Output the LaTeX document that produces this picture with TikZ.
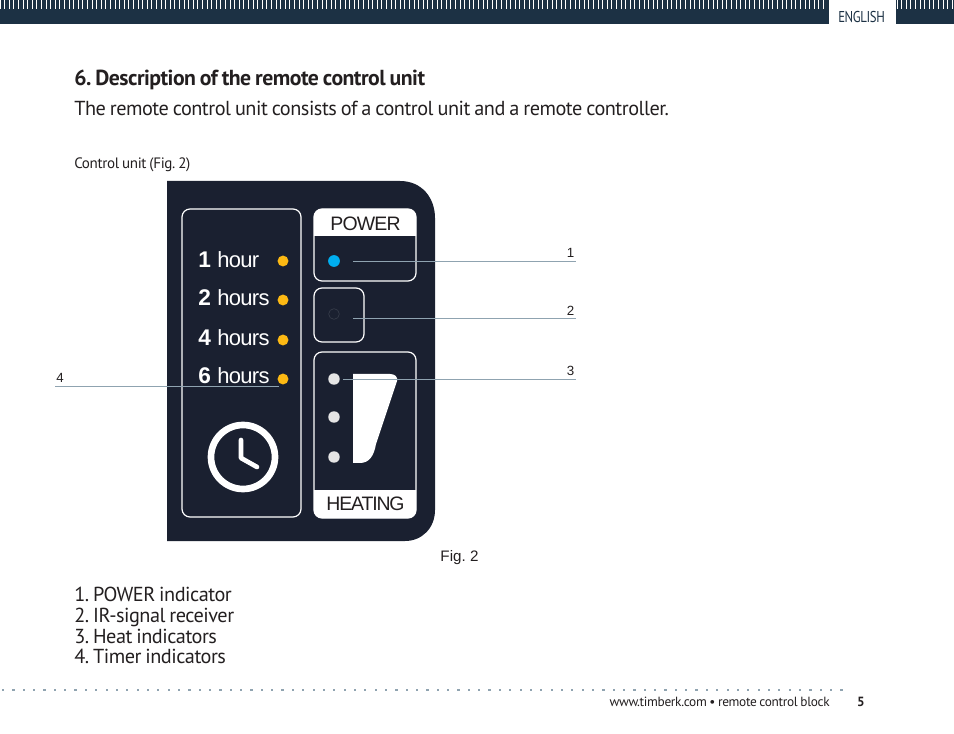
\documentclass[tikz,border=0pt]{standalone}
\usepackage{fontspec}
\setmainfont{PT Sans}[LetterSpace=-2.4,WordSpace=0.8]
\newfontfamily\panelfont{Liberation Sans}[LetterSpace=-3]
\newfontfamily\capfont{Liberation Sans}
\usepackage{tikz}
\usetikzlibrary{calc, positioning}
\definecolor{barblue}{HTML}{1C3144}
\definecolor{panelblue}{HTML}{1A2030}
\definecolor{leadgray}{HTML}{8FA3B0}
\definecolor{inktext}{HTML}{231F20}
\definecolor{amberled}{HTML}{FDB913}
\definecolor{blueled}{HTML}{00AEEF}
\tikzset{
  pagetext/.style={anchor=base west, inner sep=0, text=inktext},
  listtext/.style={pagetext, font=\fontsize{15.2}{15.2}\selectfont},
  hourtext/.style={anchor=base west, inner sep=0, text=white, font=\panelfont\fontsize{16.5}{16.5}\selectfont},
  panelbox/.style={draw=white, line width=0.9pt, rounded corners=6pt},
  leadline/.style={draw=leadgray, line width=0.6pt},
  numtext/.style={inner sep=0, text=inktext, font=\capfont\fontsize{10}{10}\selectfont},
  ledamber/.style={circle, fill=amberled, inner sep=0, minimum size=8.2pt},
  ledwhite/.style={circle, fill=white!90!black, inner sep=0, minimum size=8.6pt},
}
\begin{document}
\frenchspacing
\begin{tikzpicture}[x=0.75pt, y=-0.75pt]
  \useasboundingbox (0,0) rectangle (954,734);
  % top bar
  \fill [barblue] (0,0) rectangle (829,24);
  \fill [barblue] (896,0) rectangle (954,24);
  \foreach \x in {0,4.6,...,954} {
    \ifdim \x pt<827pt \draw [white, line width=0.75pt] (\x,0) -- (\x,9.5); \fi
    \ifdim \x pt>897pt \draw [white, line width=0.75pt] (\x,0) -- (\x,9.5); \fi
  }
  \node (lang) at (838,22.5) [pagetext, text=barblue, font=\fontsize{11.8}{11.8}\selectfont\addfontfeature{FakeStretch=0.81}] {ENGLISH};
  % headings
  \node (title) at (74,85.5) [pagetext, font=\fontsize{16.3}{16.3}\selectfont\bfseries] {6. Description of the remote control unit};
  \node (intro) at (74,115.5) [pagetext, font=\fontsize{15.2}{15.2}\selectfont] {The remote control unit consists of a control unit and a remote controller.};
  \node (caption) at (74,169) [pagetext, font=\fontsize{11.3}{11.3}\selectfont] {Control unit (Fig. 2)};
  % panel
  \fill [panelblue] (167,181) -- (400,181)
    .. controls (422,181) and (435,198) .. (435,218) -- (435,510)
    .. controls (435,528) and (422,541) .. (405,541) -- (167,541) -- cycle;
  \draw [panelbox] (182,209) rectangle (301,517);
  % power box
  \fill [white] (314,236) [rounded corners=6pt] -- (314,209) -- (416,209) -- (416,225) [sharp corners] -- (416,236) -- cycle;
  \draw [panelbox] (314,209) rectangle (416,281);
  \node (power) at (365.5,224) [inner sep=0, text=inktext, font=\panelfont\fontsize{14.6}{14.6}\selectfont\addfontfeature{LetterSpace=-4}] {POWER};
  \node (ledpower) at (334,261) [circle, fill=blueled, inner sep=0, minimum size=8.8pt] {};
  % receiver box
  \draw [panelbox] (314,288) rectangle (364,342);
  \node (ledir) at (334,314) [circle, draw=white!12!panelblue, line width=0.5pt, inner sep=0, minimum size=8pt] {};
  % heating box
  \fill [white] (314,490) [rounded corners=6pt] -- (314,518) -- (416,518) -- (416,500) [sharp corners] -- (416,490) -- cycle;
  \draw [panelbox] (314,352) rectangle (416,518);
  \node (heating) at (365.5,503.5) [inner sep=0, text=inktext, font=\panelfont\fontsize{14.6}{14.6}\selectfont\addfontfeature{LetterSpace=-6}] {HEATING};
  \node (heatone) at (334,379) [ledwhite] {};
  \node (heattwo) at (334,417) [ledwhite] {};
  \node (heatthree) at (334,457) [ledwhite] {};
  \fill [white] (353,374) -- (390,374)
    .. controls (395,374) and (398,377) .. (397,381) -- (376,444)
    .. controls (374,456) and (369,463) .. (360,463) -- (353,463) -- cycle;
  % timer
  \foreach \n/\t/\y/\ly in {1/hour/268/261, 2/hours/306/300, 4/hours/346/340, 6/hours/384/379} {
    \node (num\n) at (198,\y) [hourtext, font=\panelfont\fontsize{17}{17}\selectfont\bfseries] {\n};
    \node (lab\n) at (217,\y) [hourtext] {\t};
    \node (led\n) at (283,\ly) [ledamber] {};
  }
  \draw [white, line width=5pt] (243,457) circle [radius=32];
  \draw [white, line width=3.5pt, line cap=round, line join=round] (241,440) -- (241,458) -- (257,467);
  % leaders
  \node (one) at (570.5,252.5) [numtext] {1};
  \node (two) at (570.5,310.5) [numtext] {2};
  \node (three) at (570.5,370.5) [numtext] {3};
  \node (four) at (60,377.5) [numtext] {4};
  \coordinate (endone) at (576,261.5);
  \coordinate (endtwo) at (576,318.5);
  \coordinate (endthree) at (576,379.5);
  \coordinate (endfour) at (55,386);
  \coordinate (startone) at (353,261.5);
  \coordinate (starttwo) at (353,318.5);
  \coordinate (startthree) at (343,379.5);
  \coordinate (startfour) at (279,386);
  \draw [leadline] (startone) -- (endone);
  \draw [leadline] (starttwo) -- (endtwo);
  \draw [leadline] (startthree) -- (endthree);
  \draw [leadline] (startfour) -- (endfour);
  \node (figtwo) at (459.5,558) [inner sep=0, text=inktext, font=\capfont\fontsize{11.4}{11.4}\selectfont] {Fig. 2};
  % list
  \node (itemone) at (74,601) [listtext] {1. POWER indicator};
  \node (itemtwo) at (74,622) [listtext] {2. IR-signal receiver};
  \node (itemthree) at (74,643) [listtext] {3. Heat indicators};
  \node (itemfour) at (74,663.5) [listtext] {4. Timer indicators};
  % footer
  \foreach \x in {2,12.35,...,846} {
    \fill [leadgray] (\x,688.5) rectangle (\x+2.2,691);
  }
  \node (web) at (830,706) [anchor=base east, inner sep=0, text=inktext, font=\fontsize{10}{10}\selectfont] {www.timberk.com • remote control block};
  \node (page) at (861,706) [anchor=base, inner sep=0, text=inktext, font=\fontsize{10}{10}\selectfont\bfseries] {5};
\end{tikzpicture}
\end{document}
